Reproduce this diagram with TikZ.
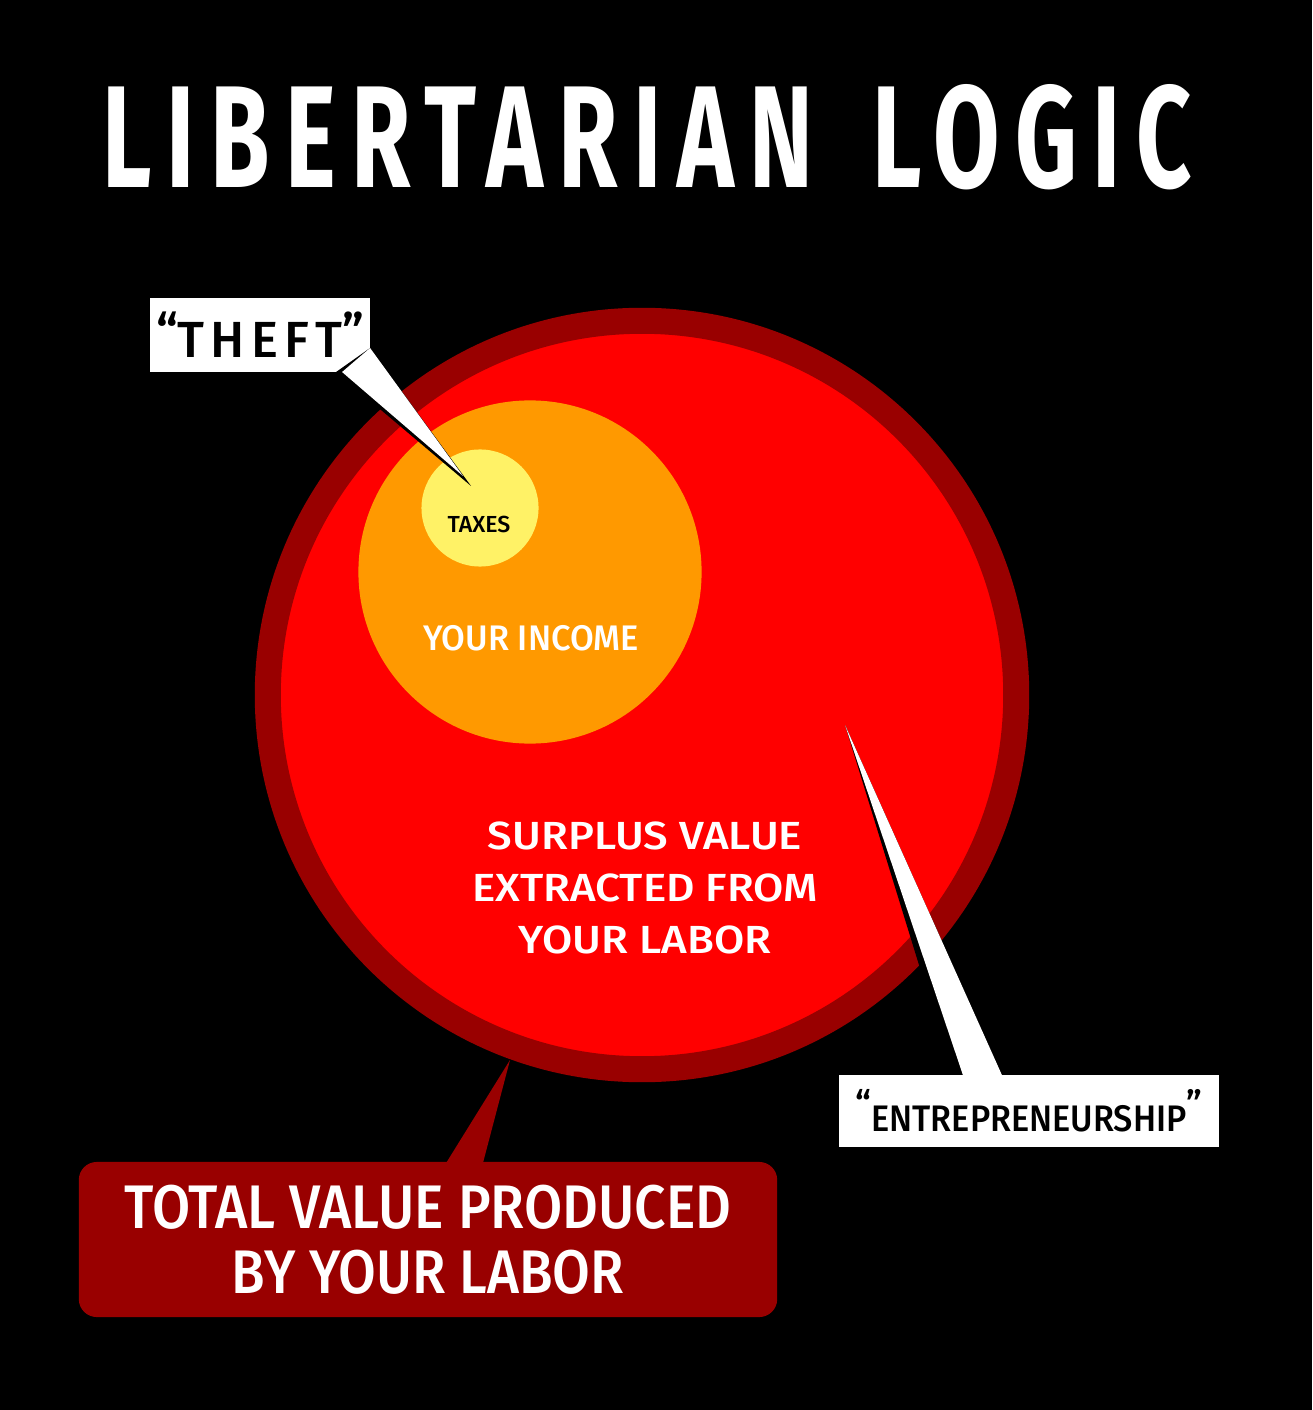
\documentclass[tikz,border=0pt]{standalone}
\usepackage{graphicx}
\usepackage{fontspec}
\setmainfont{Fira Sans}[UprightFont=* Medium, BoldFont=* Bold]
\newfontfamily\titlefont{Fira Sans}[LetterSpace=16, UprightFont=* Bold]
\newfontfamily\theftfont{Fira Sans}[LetterSpace=12, UprightFont=* Medium]
\usetikzlibrary{calc}
\definecolor{ringred}{RGB}{153,0,0}
\definecolor{hotred}{RGB}{255,0,0}
\definecolor{incomeorange}{RGB}{255,153,0}
\definecolor{taxyellow}{RGB}{255,242,102}
\newcommand\squeeze[2]{\scalebox{#1}[1]{#2}}
\begin{document}
\begin{tikzpicture}[x=0.01cm,y=-0.01cm,
 disc/.style={circle,inner sep=0pt,outer sep=0pt},
 lbl/.style={text=white,inner sep=0pt,anchor=base},
 tag/.style={fill=white,text=black,inner sep=0pt,outer sep=0pt}]
\fill[black] (0,0) rectangle (1312,1410);
\useasboundingbox (0,0) rectangle (1312,1410);
\node[text=white,inner sep=0pt] (title) at (647,137) {\resizebox{10.89cm}{1.03cm}{\titlefont LIBERTARIAN\hspace{.22em} LOGIC}};
\node[disc,fill=hotred,draw=ringred,line width=0.26cm,minimum size=7.48cm] (total) at (642,695) {};
\node[disc,fill=incomeorange,minimum size=3.43cm] (income) at (530,572) {};
\node[disc,fill=taxyellow,minimum size=1.17cm] (taxes) at (480,508) {};
\node[lbl,text=black,font=\fontsize{6.6}{8}\selectfont] (taxtext) at (479,533) {TAXES};
\node[lbl,font=\fontsize{10.1}{12}\selectfont] (incometext) at (531,650) {\squeeze{0.97}{YOUR INCOME}};
\node[text=white,inner sep=0pt,align=center,font=\fontsize{11.15}{14.9}\selectfont] (surplus) at (645,888) {\squeeze{1.12}{SURPLUS VALUE}\\\squeeze{1.12}{EXTRACTED FROM}\\\squeeze{1.12}{YOUR LABOR}};
\node[tag,minimum width=2.2cm,minimum height=0.74cm,font=\theftfont\fontsize{14.45}{16}\selectfont] (theft) at (260,335) {\raisebox{.13em}{“}THEFT\raisebox{.13em}{”}};
\node[tag,minimum width=3.8cm,minimum height=0.72cm,font=\fontsize{10.5}{12}\selectfont] (entre) at (1029,1111) {\raisebox{.37em}{“}\squeeze{0.93}{ENTREPRENEURSHIP}\raisebox{.37em}{”}};
\node[fill=ringred,rounded corners=0.18cm,minimum width=6.98cm,minimum height=1.55cm,inner sep=0pt,text=white,align=center,font=\fontsize{17.5}{18.5}\selectfont] (labor) at (428,1239.5) {\squeeze{0.9}{TOTAL VALUE PRODUCED}\\\squeeze{0.89}{BY YOUR LABOR}};
\coordinate (theft tip) at (471,486);
\coordinate (theft point) at (463,476);
\coordinate (entre tip) at (845,725);
\coordinate (labor tip) at (510,1060);
\fill[black] ($(theft.south east)+(-34,0)$) -- ($(theft.east)+(0,13)$) -- (theft tip) -- cycle;
\fill[white] ($(theft.south east)+(-28,0)$) -- ($(theft.east)+(0,13)$) -- (theft point) -- cycle;
\fill[black] ($(entre.north west)+(114,0)$) -- ($(entre.north west)+(163,0)$) -- (entre tip) -- cycle;
\fill[white] ($(entre.north west)+(124,0)$) -- ($(entre.north west)+(163,0)$) -- (entre tip) -- cycle;
\fill[ringred] ($(labor.north west)+(366,5)$) -- ($(labor.north west)+(404,5)$) -- (labor tip) -- cycle;
\end{tikzpicture}
\end{document}
